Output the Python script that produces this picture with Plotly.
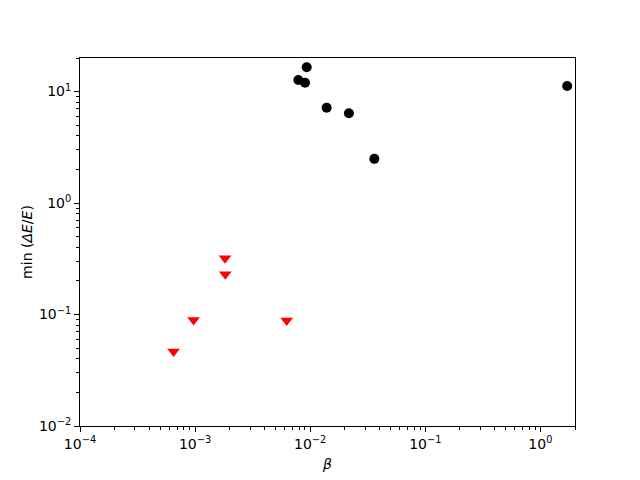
import numpy as np
import plotly.graph_objects as go

# Data
beta_black = [0.00789, 0.00902, 0.00933, 0.0139, 0.0217, 0.0361, 1.71]
dEE_black = [12.7, 12.0, 16.5, 7.17, 6.39, 2.49, 11.2]

beta_red = [0.00182, 0.00183, 0.00097, 0.00625, 0.00065]
dEE_red = [0.320, 0.230, 0.0895, 0.0882, 0.0465]

x_major = [1e-4, 1e-3, 1e-2, 1e-1, 1e0]
x_major_text = ["10<sup>−4</sup>", "10<sup>−3</sup>", "10<sup>−2</sup>", "10<sup>−1</sup>", "10<sup>0</sup>"]
y_major = [1e-2, 1e-1, 1e0, 1e1]
y_major_text = ["10<sup>−2</sup>", "10<sup>−1</sup>", "10<sup>0</sup>", "10<sup>1</sup>"]

x_minor = [m * 10.0 ** k for k in range(-4, 1) for m in range(2, 10)]
y_minor = [m * 10.0 ** k for k in range(-2, 2) for m in range(2, 10)]

fig = go.Figure()
fig.add_trace(go.Scatter(x=beta_black, y=dEE_black, mode="markers",
                         marker=dict(symbol="circle", size=10, color="black"),
                         showlegend=False))
fig.add_trace(go.Scatter(x=beta_red, y=dEE_red, mode="markers",
                         marker=dict(symbol="triangle-down", size=11, color="red"),
                         showlegend=False))

axis_common = dict(type="log", showline=True, linecolor="black", linewidth=1,
                   mirror=True, ticks="outside", ticklen=5, tickwidth=1,
                   tickcolor="black", showgrid=False, zeroline=False,
                   tickfont=dict(family="DejaVu Sans", size=14, color="black"))

fig.update_xaxes(range=[-4, np.log10(2)], tickmode="array", tickvals=x_major,
                 ticktext=x_major_text,
                 minor=dict(tickmode="array", tickvals=x_minor, ticks="outside",
                            ticklen=3, tickwidth=1, tickcolor="black"),
                 title=dict(text="<i>β</i>", font=dict(family="DejaVu Sans", size=14, color="black"),
                            standoff=8),
                 **axis_common)
fig.update_yaxes(range=[-2, np.log10(20)], tickmode="array", tickvals=y_major,
                 ticktext=y_major_text,
                 minor=dict(tickmode="array", tickvals=y_minor, ticks="outside",
                            ticklen=3, tickwidth=1, tickcolor="black"),
                 title=dict(text="min (<i>ΔE</i>/<i>E</i>)", font=dict(family="DejaVu Sans", size=14, color="black"),
                            standoff=3),
                 **axis_common)

fig.update_layout(width=640, height=480, margin=dict(l=72, r=73, t=50, b=62),
                  plot_bgcolor="white", paper_bgcolor="white",
                  font=dict(family="DejaVu Sans", size=14, color="black"))

fig.write_html("out.html")
